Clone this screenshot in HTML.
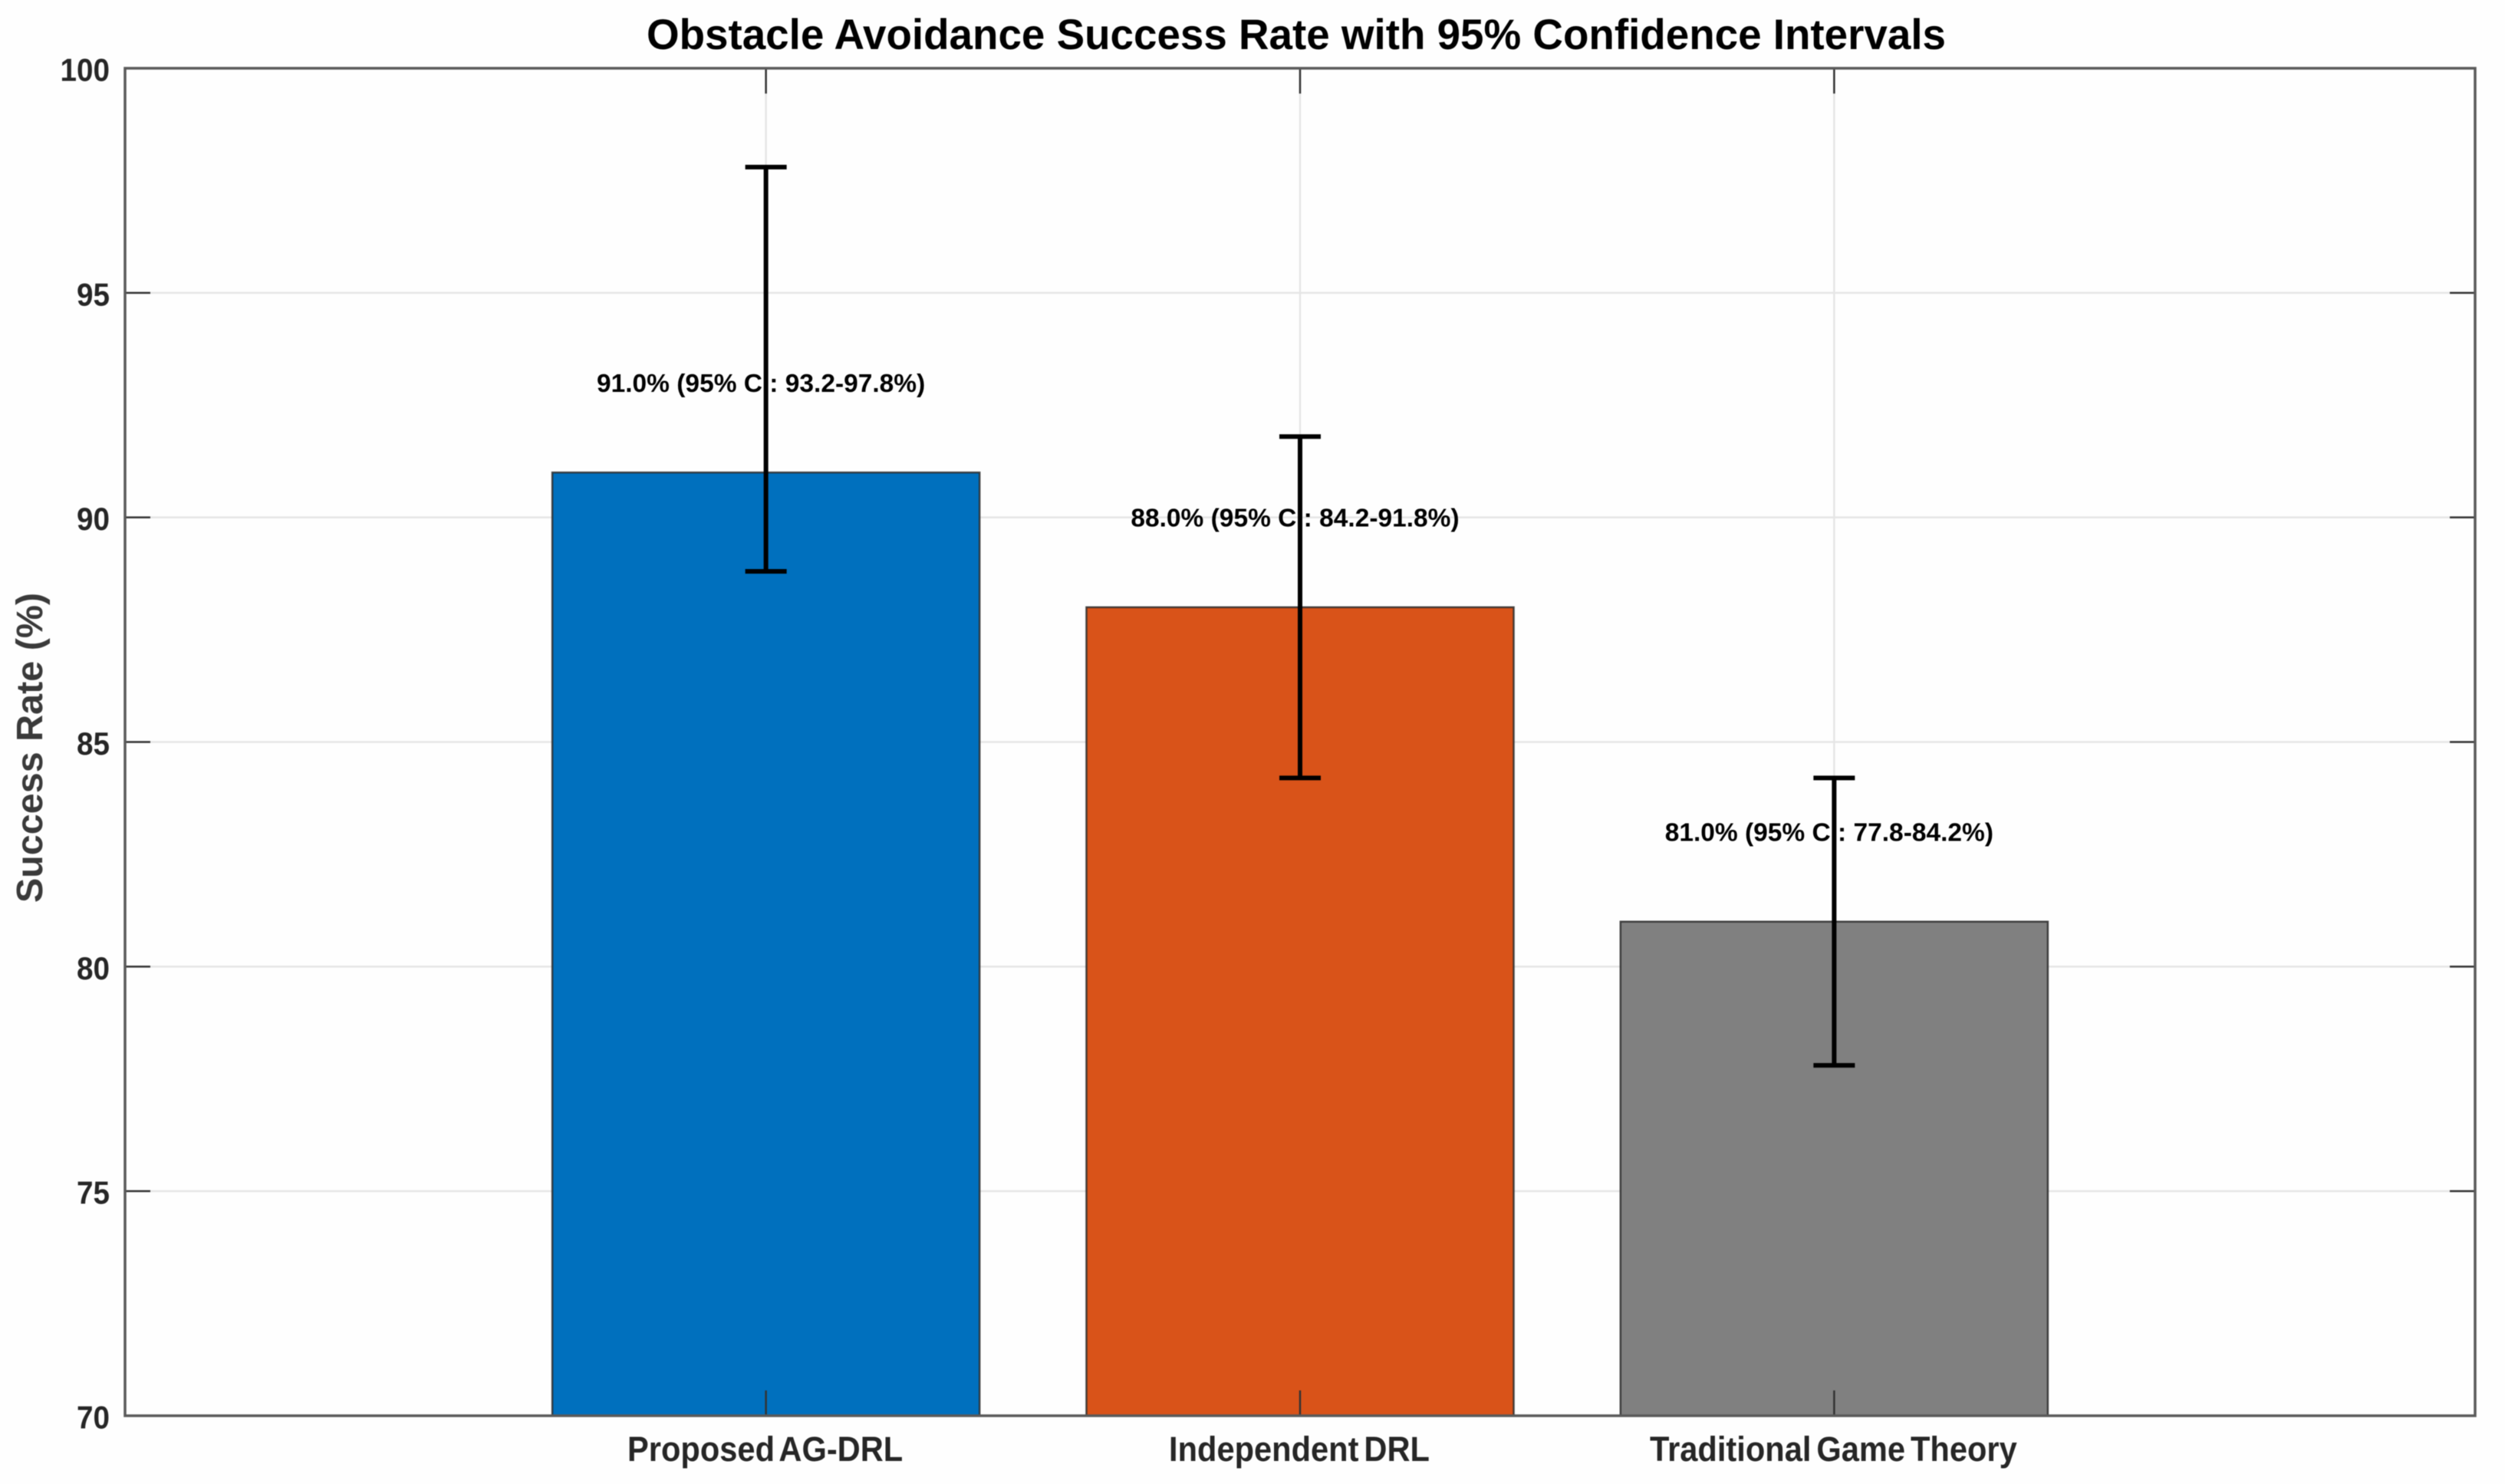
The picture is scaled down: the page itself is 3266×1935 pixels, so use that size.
<!DOCTYPE html>
<html lang="en">
<head>
<meta charset="utf-8">
<title>Obstacle Avoidance Success Rate with 95% Confidence Intervals</title>
<style>
  html, body { margin: 0; padding: 0; background: #fefefe; }
  svg { display: block; font-family: "Liberation Sans", Arial, sans-serif; filter: blur(0.6px); }
</style>
</head>
<body>
<svg id="chart" xmlns="http://www.w3.org/2000/svg" width="3266" height="1935" viewBox="0 0 3266 1935">
  <rect x="0" y="0" width="3266" height="1935" fill="#fefefe"/>
  <g id="grid"></g>
  <g id="bars"></g>
  <g id="ticks"></g>
  <rect x="163" y="89" width="3064" height="1757" fill="none" stroke="#5a5a5a" stroke-width="3.5"/>
  <g id="tick-labels"></g>
  <g id="value-labels"></g>
  <g id="error-bars"></g>
  <text x="1690" y="64" text-anchor="middle" font-size="56" font-weight="700" fill="#000000" textLength="1694" lengthAdjust="spacingAndGlyphs">Obstacle Avoidance Success Rate with 95% Confidence Intervals</text>
  <text x="0" y="0" transform="translate(55 975) rotate(-90)" text-anchor="middle" font-size="48.5" font-weight="700" fill="#3a3a3a">Success Rate (%)</text>
</svg>
<script>
const categories = ["Proposed AG-DRL", "Independent DRL", "Traditional Game Theory"];
const successRates = [91.0, 88.0, 81.0];
const errorLow = [88.8, 84.2, 77.8];
const errorHigh = [97.8, 91.8, 84.2];
const ciLabelLow = [93.2, 84.2, 77.8];
const ciLabelHigh = [97.8, 91.8, 84.2];
const barColors = ["#0070BE", "#D95319", "#808080"];
const yTicks = [70, 75, 80, 85, 90, 95, 100];
const xPositions = [1, 2, 3];

const NS = "http://www.w3.org/2000/svg";
const plot = { left: 163, right: 3227, top: 89, bottom: 1846 };
const xDomain = [-0.2, 4.2];
const yDomain = [70, 100];
const barWidth = 0.8;
const labelOffset = 2;

function xScale(v) {
  return plot.left + (v - xDomain[0]) / (xDomain[1] - xDomain[0]) * (plot.right - plot.left);
}
function yScale(v) {
  return plot.bottom - (v - yDomain[0]) / (yDomain[1] - yDomain[0]) * (plot.bottom - plot.top);
}
function make(tag, parent, attrs) {
  const el = document.createElementNS(NS, tag);
  for (const k in attrs) el.setAttribute(k, attrs[k]);
  parent.appendChild(el);
  return el;
}
function condense(el, factor) {
  el.setAttribute("textLength", (el.getComputedTextLength() * factor).toFixed(1));
  el.setAttribute("lengthAdjust", "spacingAndGlyphs");
}

const gridG = document.getElementById("grid");
const barsG = document.getElementById("bars");
const ticksG = document.getElementById("ticks");
const tickLabelsG = document.getElementById("tick-labels");
const valueLabelsG = document.getElementById("value-labels");
const errorG = document.getElementById("error-bars");

const gridStyle = { stroke: "#e6e6e6", "stroke-width": 2.5 };
const tickStyle = { stroke: "#333333", "stroke-width": 2.5 };
const tickLen = 33;

yTicks.forEach(function (t) {
  const y = yScale(t);
  const gl = make("line", gridG, Object.assign({ x1: plot.left, x2: plot.right, y1: y, y2: y }, gridStyle));
  
  

  const tl = make("line", ticksG, Object.assign({ x1: plot.left, x2: plot.left + tickLen, y1: y, y2: y }, tickStyle));
  
  

  const tr = make("line", ticksG, Object.assign({ x1: plot.right - tickLen, x2: plot.right, y1: y, y2: y }, tickStyle));
  
  

  const lab = make("text", tickLabelsG, { x: 143, y: y + 16.5, "text-anchor": "end", "font-size": 42, "font-weight": 700, fill: "#262626" });
  lab.textContent = String(t);
  
  
  condense(lab, 0.92);
});

xPositions.forEach(function (p, i) {
  const x = xScale(p);

  const gl = make("line", gridG, Object.assign({ x1: x, x2: x, y1: plot.top, y2: plot.bottom }, gridStyle));
  
  

  const barLeft = xScale(p - barWidth / 2);
  const barRight = xScale(p + barWidth / 2);
  const barTop = yScale(successRates[i]);
  const bar = make("rect", barsG, { x: barLeft, y: barTop, width: barRight - barLeft, height: yScale(yDomain[0]) - barTop, fill: barColors[i], stroke: "#2b2b2b", "stroke-opacity": 0.85, "stroke-width": 2.5 });
  
  

  const tb = make("line", ticksG, Object.assign({ x1: x, x2: x, y1: plot.bottom - tickLen, y2: plot.bottom }, tickStyle));
  
  

  const tt = make("line", ticksG, Object.assign({ x1: x, x2: x, y1: plot.top, y2: plot.top + tickLen }, tickStyle));
  
  

  const cat = make("text", tickLabelsG, { x: x - 1, y: 1905, "text-anchor": "middle", "font-size": 45, "font-weight": 700, fill: "#262626", "word-spacing": -5 });
  cat.textContent = categories[i];
  
  
  condense(cat, 0.925);

  const val = make("text", valueLabelsG, { x: x - 6.5, y: yScale(successRates[i] + labelOffset) + 12, "text-anchor": "middle", "font-size": 33.5, "font-weight": 700, fill: "#000000" });
  val.textContent = successRates[i].toFixed(1) + "% (95% CI: " + ciLabelLow[i].toFixed(1) + "-" + ciLabelHigh[i].toFixed(1) + "%)";
  
  

  const stem = make("line", errorG, { x1: x, x2: x, y1: yScale(errorHigh[i]), y2: yScale(errorLow[i]), stroke: "#000000", "stroke-width": 6 });
  
  

  const capTop = make("line", errorG, { x1: x - 27, x2: x + 27, y1: yScale(errorHigh[i]), y2: yScale(errorHigh[i]), stroke: "#000000", "stroke-width": 6 });
  
  

  const capBottom = make("line", errorG, { x1: x - 27, x2: x + 27, y1: yScale(errorLow[i]), y2: yScale(errorLow[i]), stroke: "#000000", "stroke-width": 6 });
  
  
});
</script>
</body>
</html>
